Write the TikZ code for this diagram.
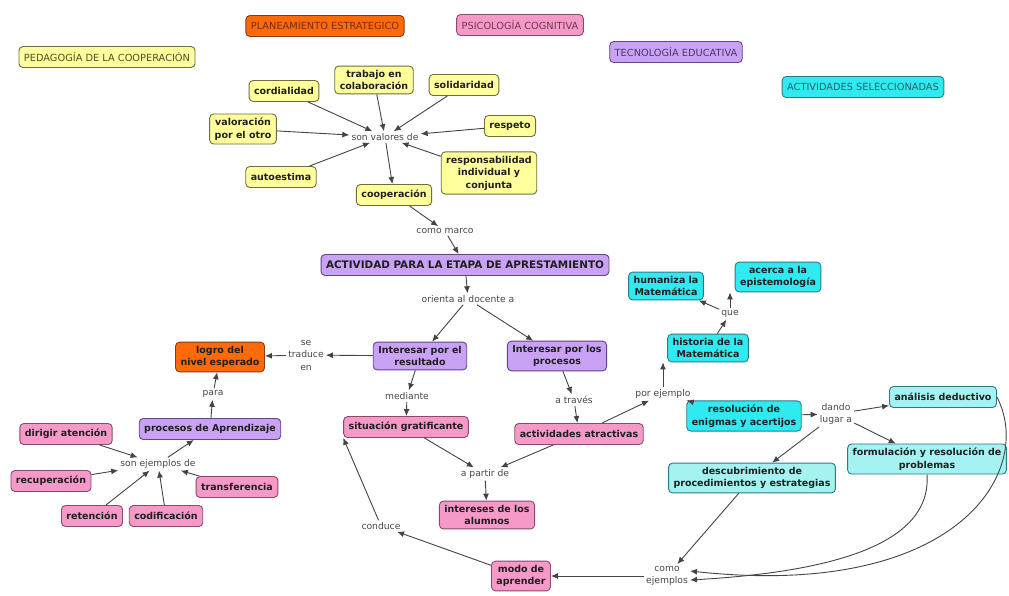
\documentclass[tikz,border=0pt]{standalone}
\usepackage{fontspec}
\setmainfont{DejaVu Sans}
\usetikzlibrary{arrows.meta}
\definecolor{yelF}{HTML}{FFFF9C}
\definecolor{yelD}{HTML}{6E6E3C}
\definecolor{oraF}{HTML}{FF6A08}
\definecolor{oraD}{HTML}{8A3A10}
\definecolor{pinF}{HTML}{F59AC8}
\definecolor{pinD}{HTML}{8A4A68}
\definecolor{purF}{HTML}{C9A2F5}
\definecolor{purD}{HTML}{5E4488}
\definecolor{cyaF}{HTML}{30EAF2}
\definecolor{cyaD}{HTML}{2A7C84}
\definecolor{pcyF}{HTML}{A4F2F2}
\definecolor{lineC}{HTML}{444444}
\tikzset{
  concept/.style={draw, rounded corners=4pt, line width=0.9pt, align=center,
    font=\bfseries\fontsize{9.5}{12.5}\selectfont, text=black!88,
    inner xsep=5pt, inner ysep=4pt, minimum height=21pt},
  yel/.style={concept, fill=yelF, draw=yelD},
  ora/.style={concept, fill=oraF, draw=oraD},
  pin/.style={concept, fill=pinF, draw=pinD},
  pur/.style={concept, fill=purF, draw=purD},
  cya/.style={concept, fill=cyaF, draw=cyaD},
  pcy/.style={concept, fill=pcyF, draw=cyaD},
  head/.style={draw, rounded corners=4pt, line width=0.9pt,
    font=\fontsize{9.8}{11}\selectfont, inner xsep=5pt, minimum height=21pt},
  lab/.style={font=\fontsize{9.2}{12.5}\selectfont, text=black!72, inner sep=2pt, align=center},
  arr/.style={draw=lineC, line width=0.9pt, -{Latex[length=7pt,width=6pt]}},
  ln/.style={draw=lineC, line width=0.9pt}
}
\begin{document}
\begin{tikzpicture}[x=1pt,y=-1pt]
\useasboundingbox[fill=white] (0,0) rectangle (1009,595);
% headers
\node[head, fill=yelF, draw=yelD, text=yelD!70!black] (hped) at (107,57) {PEDAGOGÍA DE LA COOPERACIÓN};
\node[head, fill=oraF, draw=oraD, text=oraD!80!black] (hpla) at (325,26) {PLANEAMIENTO ESTRATEGICO};
\node[head, fill=pinF, draw=pinD, text=pinD!80!black] (hpsi) at (520,25) {PSICOLOGÍA COGNITIVA};
\node[head, fill=purF, draw=purD, text=purD!80!black] (htec) at (676,52) {TECNOLOGÍA EDUCATIVA};
\node[head, fill=cyaF, draw=cyaD, text=cyaD!80!black] (hact) at (863,87) {ACTIVIDADES SELECCIONADAS};
% yellow cluster
\node[yel] (cord) at (284,91) {cordialidad};
\node[yel] (trab) at (374,80) {trabajo en\\colaboración};
\node[yel] (soli) at (464,85) {solidaridad};
\node[yel] (valo) at (243,129) {valoración\\por el otro};
\node[lab] (sval) at (385,137) {son valores de};
\node[yel] (resp) at (510,126) {respeto};
\node[yel] (auto) at (281,177) {autoestima};
\node[yel] (rind) at (489,173) {responsabilidad\\individual y\\conjunta};
\node[yel] (coop) at (394,195) {cooperación};
\node[lab] (cmar) at (445,231) {como marco};
\node[pur, font=\bfseries\fontsize{10.4}{12.5}\selectfont] (acti) at (465,265) {ACTIVIDAD PARA LA ETAPA DE APRESTAMIENTO};
\node[lab] (orie) at (468,299) {orienta al docente a};
\node[pur] (ires) at (420,356) {Interesar por el\\resultado};
\node[pur] (ipro) at (557,356) {Interesar por los\\procesos};
\node[lab] (stra) at (306,355) {se\\traduce\\en};
\node[ora] (logr) at (220,357) {logro del\\nivel esperado};
\node[lab] (para) at (213,394) {para};
\node[pur] (papr) at (210,429) {procesos de Aprendizaje};
\node[lab] (sejm) at (158,464) {son ejemplos de};
\node[pin] (diri) at (66,434) {dirigir atención};
\node[pin] (recu) at (51,481) {recuperación};
\node[pin] (tran) at (237,487) {transferencia};
\node[pin] (rete) at (92,516) {retención};
\node[pin] (codi) at (166,516) {codificación};
\node[lab] (medi) at (407,396) {mediante};
\node[pin] (situ) at (406,427) {situación gratificante};
\node[lab] (atra) at (574,400) {a través};
\node[pin] (acta) at (579,434) {actividades atractivas};
\node[lab] (apar) at (485,474) {a partir de};
\node[pin] (inte) at (487,515) {intereses de los\\alumnos};
\node[lab] (cond) at (381,526) {conduce};
\node[pin] (modo) at (521,576) {modo de\\aprender};
\node[lab] (cejm) at (667,576) {como\\ejemplos};
\node[lab] (pejm) at (663,394) {por ejemplo};
\node[cya] (hist) at (708,348) {historia de la\\Matemática};
\node[lab] (que) at (730,314) {que};
\node[cya] (huma) at (666,286) {humaniza la\\Matemática};
\node[cya] (acer) at (778,277) {acerca a la\\epistemología};
\node[cya] (reso) at (744,416) {resolución de\\enigmas y acertijos};
\node[lab] (dand) at (836,414) {dando\\lugar a};
\node[pcy] (anal) at (943,397) {análisis deductivo};
\node[pcy] (form) at (927,459) {formulación y resolución de\\problemas};
\node[pcy] (desc) at (752,478) {descubrimiento de\\procedimientos y estrategias};
% edges
\foreach \s in {cord,trab,soli,valo,resp,auto,rind} \draw[arr] (\s) -- (sval);
\draw[arr] (sval) -- (coop);
\draw[arr] (coop) -- (cmar);
\draw[arr] (cmar) -- (acti);
\draw[arr] (acti) -- (orie);
\draw[arr] (orie) -- (ires);
\draw[arr] (orie) -- (ipro);
\draw[arr] (ires) -- (stra);
\draw[arr] (stra) -- (logr);
\draw[arr] (papr) -- (para);
\draw[arr] (para) -- (logr);
\foreach \s in {diri,recu,rete,codi,tran} \draw[arr] (\s) -- (sejm);
\draw[arr] (sejm) -- (papr);
\draw[arr] (ires) -- (medi);
\draw[arr] (medi) -- (situ);
\draw[arr] (ipro) -- (atra);
\draw[arr] (atra) -- (acta);
\draw[arr] (situ) -- (apar);
\draw[arr] (acta) -- (apar);
\draw[arr] (apar) -- (inte);
\draw[arr] (modo) -- (cond);
\draw[arr] (cond) -- (situ.south west);
\draw[arr] (acta) -- (pejm);
\draw[arr] (pejm) -- (pejm |- hist.south);
\draw[arr] (pejm) -- (reso);
\draw[arr] (hist) -- (que);
\draw[arr] (que) -- (huma);
\draw[arr] (que) -- (que |- acer.south);
\draw[arr] (reso) -- (dand);
\draw[arr] (dand) -- (anal);
\draw[arr] (dand) -- (form);
\draw[arr] (dand) -- (desc);
\draw[arr] (desc) -- (cejm);
\draw[arr] (form.south) .. controls (932,545) and (830,572) .. ([yshift=-4pt]cejm.east);
\draw[arr] (anal.east) .. controls (1035,470) and (960,600) .. ([yshift=5pt]cejm.east);
\draw[arr] (cejm) -- (modo);
\end{tikzpicture}
\end{document}
